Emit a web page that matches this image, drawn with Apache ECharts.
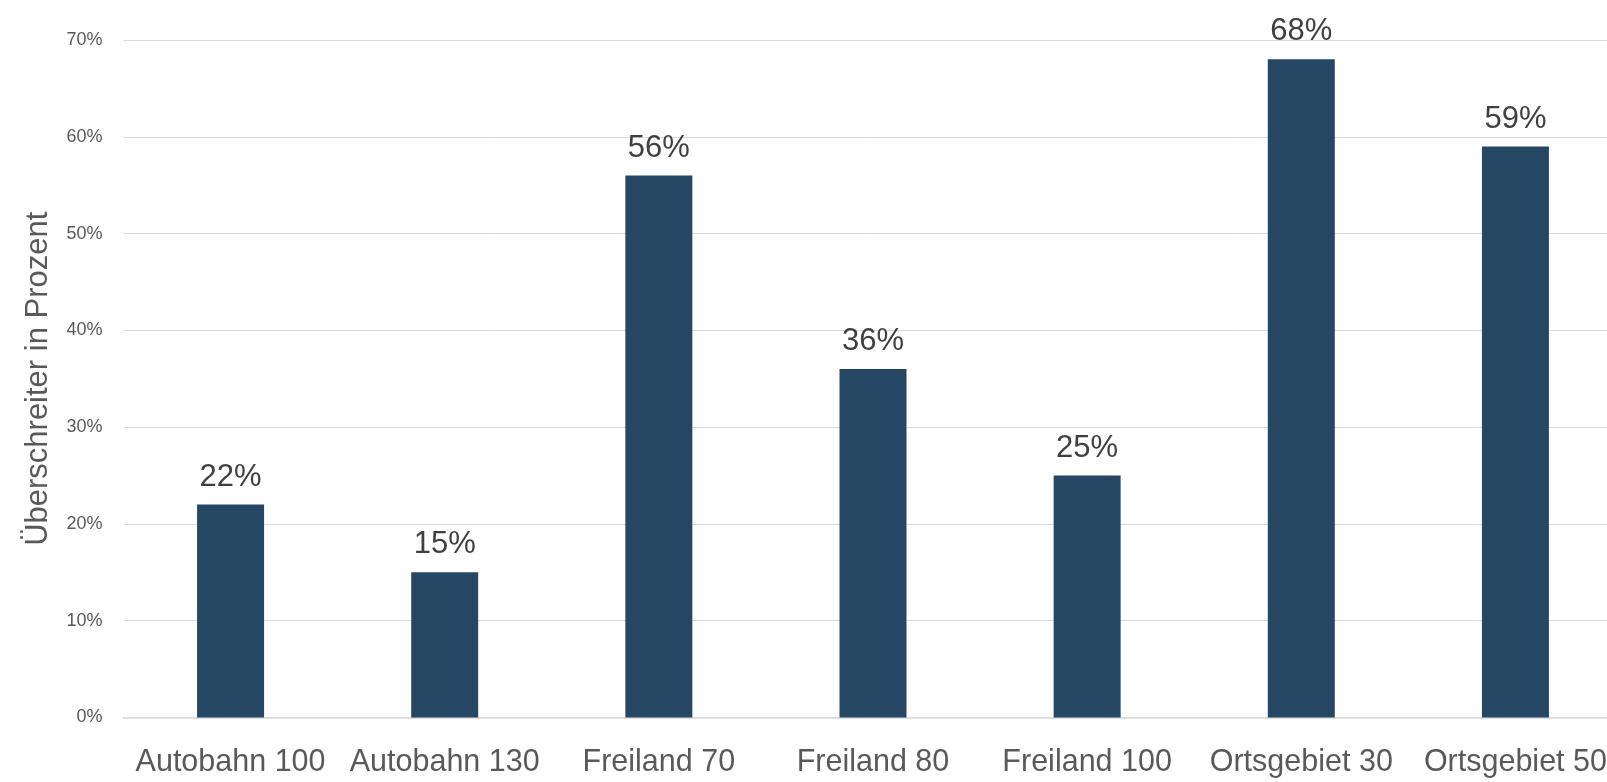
<!DOCTYPE html>
<html>
<head>
<meta charset="utf-8">
<script src="https://cdn.jsdelivr.net/npm/echarts@6/dist/echarts.min.js"></script>
<style>
html,body{margin:0;padding:0;background:#fff;}
#c{width:1607px;height:782px;}
</style>
</head>
<body>
<div id="c"></div>
<script>
const categories = ['Autobahn 100','Autobahn 130','Freiland 70','Freiland 80','Freiland 100','Ortsgebiet 30','Ortsgebiet 50'];
const values = [22, 15, 56, 36, 25, 68, 59];
const yTicks = [0, 10, 20, 30, 40, 50, 60, 70];

const narrow = '"Liberation Sans Narrow","Arial Narrow","Liberation Sans",Arial,sans-serif';
const chart = echarts.init(document.getElementById('c'));
chart.setOption({
  animation: false,
  backgroundColor: '#ffffff',
  grid: { left: 123.5, top: 40, width: 1499, height: 677.5, containLabel: false, outerBoundsMode: 'none' },
  xAxis: {
    type: 'category',
    data: categories,
    axisTick: { show: false },
    axisLine: { lineStyle: { color: '#d9d9d9', width: 1.5 } },
    axisLabel: { color: '#595959', fontFamily: narrow, fontSize: 30.5, margin: 30, interval: 0 }
  },
  yAxis: {
    type: 'value',
    min: yTicks[0],
    max: yTicks[yTicks.length - 1],
    interval: 10,
    name: 'Überschreiter in Prozent',
    nameLocation: 'middle',
    nameGap: 70,
    nameTextStyle: { color: '#595959', fontFamily: narrow, fontSize: 31 },
    axisLine: { show: false },
    axisTick: { show: false },
    axisLabel: { color: '#595959', fontFamily: 'Liberation Sans, Arial, sans-serif', fontSize: 18, margin: 21, formatter: v => v + '%' },
    splitLine: { lineStyle: { color: '#d9d9d9', width: 1 } }
  },
  series: [{
    type: 'bar',
    data: values,
    barWidth: 67,
    itemStyle: { color: '#264763' },
    label: {
      show: true,
      position: 'top',
      distance: 12,
      color: '#404040',
      fontFamily: narrow,
      fontSize: 31,
      formatter: p => p.value + '%'
    }
  }]
});
</script>
</body>
</html>
